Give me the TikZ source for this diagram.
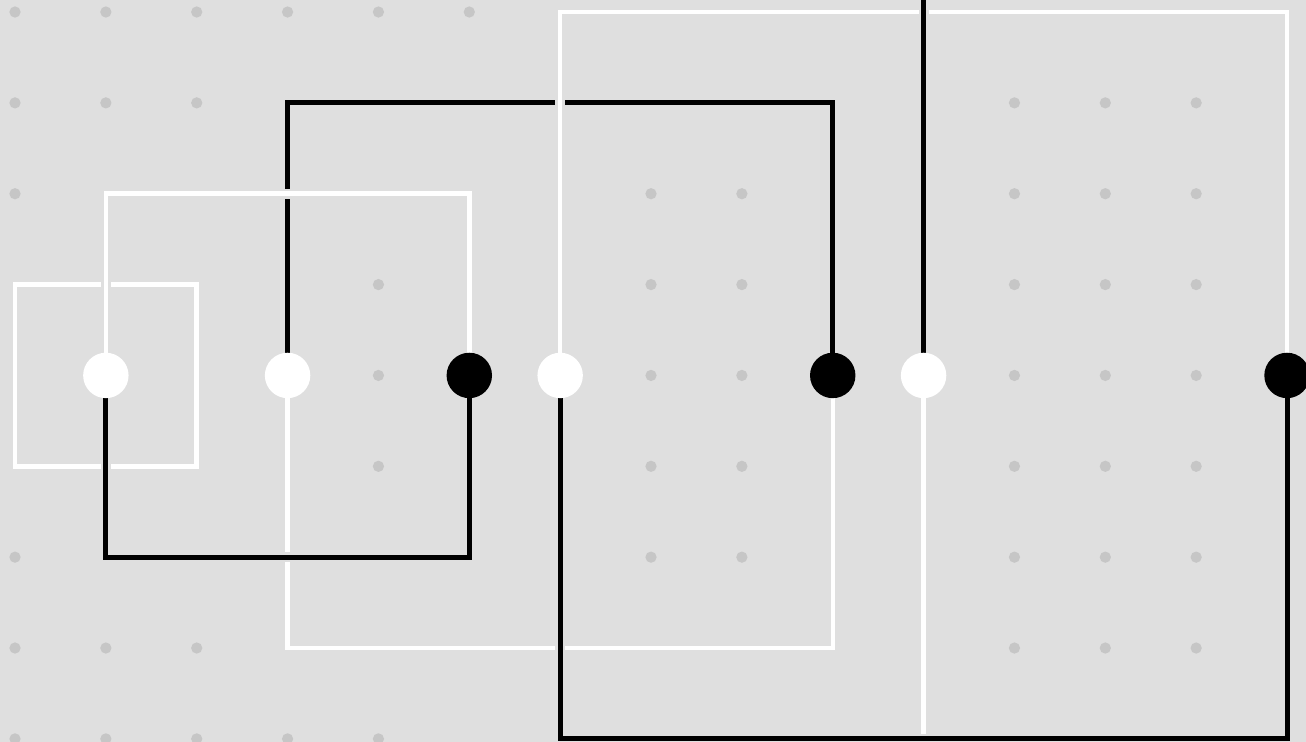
\documentclass[tikz,border=0pt]{standalone}
\definecolor{bgc}{HTML}{DFDFDF}
\definecolor{dotc}{HTML}{C6C6C6}
\tikzset{
  wline/.style={draw=white, line width=1.4pt, line join=miter, line cap=butt,
    preaction={draw=bgc, line width=3.0pt}},
  bline/.style={draw=black, line width=1.55pt, line join=miter, line cap=butt,
    preaction={draw=bgc, line width=3.1pt}},
  wnode/.style={circle, fill=white, minimum size=0.5cm, inner sep=0pt},
  bnode/.style={circle, fill=black, minimum size=0.5cm, inner sep=0pt},
  griddot/.style={fill=dotc, draw=none}
}
\begin{document}
\begin{tikzpicture}[x=1cm, y=-1cm]
\useasboundingbox (-0.1651,-0.1321) rectangle (14.2089,8.0343);
\fill[bgc] (-0.1651,-0.1321) rectangle (14.2089,8.0343);
% grid dots
\foreach \r/\cols in {0/{0,1,2,3,4,5}, 1/{0,1,2,11,12,13}, 2/{0,7,8,11,12,13},
  3/{4,7,8,11,12,13}, 4/{4,7,8,11,12,13}, 5/{4,7,8,11,12,13},
  6/{0,7,8,11,12,13}, 7/{0,1,2,11,12,13}, 8/{0,1,2,3,4}} {
  \foreach \c in \cols { \fill[griddot] (\c,\r) circle (0.062); }
}
% node positions
\coordinate (p1) at (1,4);
\coordinate (p3) at (3,4);
\coordinate (p5) at (5,4);
\coordinate (p6) at (6,4);
\coordinate (p9) at (9,4);
\coordinate (p10) at (10,4);
\coordinate (p14) at (14,4);
\coordinate (topend) at (10,-0.1321);
% connectors (order sets which lies on top)
\draw[wline] (0,3) rectangle (2,5);
\draw[bline] (p3) -- (3,1) -- (9,1) -- (p9);
\draw[wline] (p1) -- (1,2) -- (5,2) -- (p5);
\draw[wline] (p6) -- (6,0) -- (14,0) -- (p14);
\draw[wline] (p3) -- (3,7) -- (9,7) -- (p9);
\draw[bline] (p1) -- (1,6) -- (5,6) -- (p5);
\draw[bline] (p10) -- (topend);
\draw[wline] (p10) -- (10,8);
\draw[bline] (p6) -- (6,8) -- (14,8) -- (p14);
% nodes
\node[wnode] (n1) at (p1) {};
\node[wnode] (n3) at (p3) {};
\node[bnode] (n5) at (p5) {};
\node[wnode] (n6) at (p6) {};
\node[bnode] (n9) at (p9) {};
\node[wnode] (n10) at (p10) {};
\node[bnode] (n14) at (p14) {};
\end{tikzpicture}
\end{document}
